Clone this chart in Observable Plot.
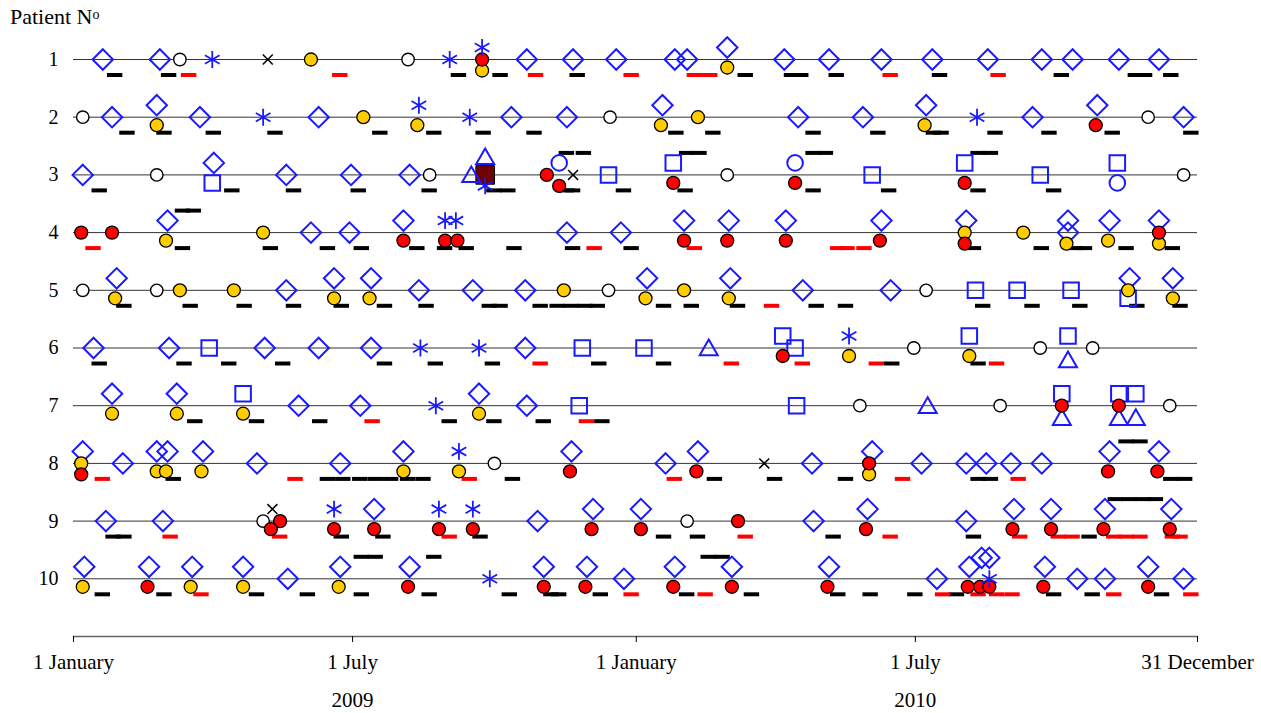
<!DOCTYPE html>
<html>
<head>
<meta charset="utf-8">
<script src="https://cdn.jsdelivr.net/npm/d3@7"></script>
<script src="https://cdn.jsdelivr.net/npm/@observablehq/plot@0.6"></script>
<style>
  body { margin: 0; background: #fff; }
  #wrap { position: relative; width: 1261px; height: 713px; overflow: hidden; background: #fff; }
  #title { position: absolute; left: 10px; top: 6px; font: 22px/1 "Liberation Serif", serif; color: #000; white-space: nowrap; }
  #title span { font-size: 14px; position: relative; top: -5px; }
</style>
</head>
<body>
<div id="wrap">
  <div id="chart"></div>
  <div id="title">Patient N<span>o</span></div>
</div>
<script>
// ---- Data (x = day counted from 1 January 2009; [patient, day, stack level]) ----
const patients = [1, 2, 3, 4, 5, 6, 7, 8, 9, 10];
const tickDays = [0, 181, 365, 546, 729];
const tickLabels = ["1 January", "1 July", "1 January", "1 July", "31 December"];
const yearDays = [181, 546];
const yearLabels = ["2009", "2010"];

const diamonds = [
  [1,19,0],[1,56,0],[1,294,0],[1,324,0],[1,352,0],[1,390,0],[1,398,0],[1,424,-1],[1,461,0],[1,490,0],[1,524,0],[1,557,0],[1,593,0],[1,628,0],[1,648,0],[1,678,0],[1,704,0],
  [2,25,0],[2,54,-1],[2,82,0],[2,159,0],[2,284,0],[2,320,0],[2,382,-1],[2,470,0],[2,512,0],[2,553,-1],[2,622,0],[2,664,-1],[2,720,0],
  [3,6,0],[3,91,-1],[3,138,0],[3,180,0],[3,218,0],
  [4,61,-1],[4,154,0],[4,179,0],[4,214,-1],[4,320,0],[4,355,0],[4,396,-1],[4,425,-1],[4,462,-1],[4,524,-1],[4,579,-1],[4,645,-1],[4,645,0],[4,672,-1],[4,704,-1],
  [5,28,-1],[5,138,0],[5,169,-1],[5,193,-1],[5,224,0],[5,259,0],[5,293,0],[5,372,-1],[5,426,-1],[5,473,0],[5,530,0],[5,685,-1],[5,713,-1],
  [6,13,0],[6,62,0],[6,124,0],[6,159,0],[6,193,0],[6,293,0],
  [7,25,-1],[7,67,-1],[7,146,0],[7,186,0],[7,263,-1],[7,294,0],
  [8,6,-1],[8,32,0],[8,54,-1],[8,61,-1],[8,84,-1],[8,119,0],[8,173,0],[8,214,-1],[8,323,-1],[8,384,0],[8,405,-1],[8,479,0],[8,518,-1],[8,550,0],[8,579,0],[8,592,0],[8,608,0],[8,628,0],[8,672,-1],[8,704,-1],
  [9,21,0],[9,58,0],[9,195,-1],[9,301,0],[9,337,-1],[9,368,-1],[9,480,0],[9,515,-1],[9,579,0],[9,610,-1],[9,634,-1],[9,669,-1],[9,712,-1],
  [10,7,-1],[10,49,-1],[10,77,-1],[10,110,-1],[10,139,0],[10,173,-1],[10,218,-1],[10,305,-1],[10,333,-1],[10,357,0],[10,390,-1],[10,427,-1],[10,490,-1],[10,560,0],[10,581,-1],[10,589,-2],[10,594,-2],[10,630,-1],[10,651,0],[10,669,0],[10,697,-1],[10,720,0]
];

const openCircles = [
  [1,69,0],[1,217,0],
  [2,6,0],[2,348,0],[2,697,0],
  [3,54,0],[3,231,0],[3,424,0],[3,720,0],
  [5,6,0],[5,54,0],[5,347,0],[5,553,0],
  [6,545,0],[6,627,0],[6,661,0],
  [7,510,0],[7,601,0],[7,711,0],
  [8,273,0],
  [9,123,0],[9,398,0]
];

const yellowCircles = [
  [1,154,0],[1,265,2],[1,424,1],
  [2,54,1],[2,188,0],[2,223,1],[2,381,1],[2,405,0],[2,552,1],
  [4,60,1],[4,123,0],[4,578,0],[4,616,0],[4,644,2],[4,671,1],[4,704,2],
  [5,27,1],[5,69,0],[5,104,0],[5,169,1],[5,192,1],[5,318,0],[5,371,1],[5,396,0],[5,425,1],[5,684,0],[5,713,1],
  [6,503,1],[6,581,1],
  [7,25,1],[7,67,1],[7,110,1],[7,263,1],
  [8,5,0],[8,54,1],[8,60,1],[8,83,1],[8,214,1],[8,250,1],[8,516,2],
  [10,6,1],[10,76,1],[10,110,1],[10,172,1]
];

const redCircles = [
  [1,265,0],
  [2,663,1],
  [3,307,0],[3,315,2],[3,389,1],[3,468,1],[3,578,1],
  [4,5,0],[4,25,0],[4,214,1],[4,241,1],[4,249,1],[4,396,1],[4,424,1],[4,462,1],[4,523,1],[4,578,2],[4,704,0],
  [6,460,1],
  [7,641,0],[7,678,0],
  [8,5,2],[8,322,1],[8,404,1],[8,516,0],[8,671,1],[8,703,1],
  [9,128,1],[9,134,0],[9,169,1],[9,195,1],[9,237,1],[9,259,1],[9,336,1],[9,368,1],[9,431,0],[9,514,1],[9,609,1],[9,634,1],[9,668,1],[9,711,1],
  [10,48,1],[10,217,1],[10,305,1],[10,332,1],[10,389,1],[10,427,1],[10,489,1],[10,580,1],[10,588,1],[10,594,1],[10,629,1],[10,697,1]
];

const asterisks = [
  [1,90,0],[1,244,0],[1,265,-1],
  [2,123,0],[2,224,-1],[2,257,0],[2,586,0],
  [3,267,2],
  [4,241,-1],[4,248,-1],
  [6,225,0],[6,263,0],[6,503,-1],
  [7,235,0],
  [8,250,-1],
  [9,169,-1],[9,237,-1],[9,259,-1],
  [10,270,0],[10,594,0]
];

const crosses = [[1,126,0],[3,324,0],[8,448,0],[9,129,-1]];

const squares = [
  [3,90,1],[3,347,0],[3,389,-1],[3,518,0],[3,578,-1],[3,627,0],[3,677,-1],
  [5,585,0],[5,612,0],[5,647,0],[5,684,1],
  [6,88,0],[6,330,0],[6,370,0],[6,460,-1],[6,468,0],[6,581,-1],[6,645,-1],
  [7,110,-1],[7,328,0],[7,469,0],[7,641,-1],[7,678,-1],[7,689,-1]
];

const triangles = [[3,258,0],[3,267,-1],[6,412,0],[6,645,2],[7,554,0],[7,641,2],[7,678,2],[7,689,2]];
const blueCircles = [[3,315,-1],[3,468,-1],[3,677,1]];
const darkSquares = [[3,267,0]];

// dashes: [patient, start day]
const blackDashes = [
  [1,22],[1,57],[1,245],[1,272],[1,322],[1,431],[1,461],[1,467],[1,490],[1,557],[1,636],[1,684],[1,690],[1,707],
  [2,30],[2,54],[2,86],[2,126],[2,194],[2,229],[2,261],[2,294],[2,386],[2,410],[2,475],[2,517],[2,553],[2,558],[2,593],[2,628],[2,669],[2,720],
  [3,12],[3,98],[3,138],[3,180],[3,226],[3,268],[3,277],[3,315],[3,319],[3,352],[3,392],[3,475],[3,524],[3,582],[3,631],
  [4,66],[4,123],[4,160],[4,182],[4,218],[4,236],[4,250],[4,281],[4,319],[4,357],[4,579],[4,623],[4,645],[4,651],[4,678],[4,708],
  [5,28],[5,71],[5,106],[5,138],[5,169],[5,197],[5,224],[5,265],[5,272],[5,298],[5,309],[5,318],[5,327],[5,335],[5,378],[5,396],[5,426],[5,477],[5,496],[5,585],[5,617],[5,648],[5,685],[5,713],
  [6,12],[6,67],[6,96],[6,131],[6,197],[6,230],[6,267],[6,336],[6,378],[6,526],[6,582],
  [7,74],[7,114],[7,155],[7,239],[7,268],[7,300],[7,338],
  [8,60],[8,160],[8,170],[8,181],[8,191],[8,201],[8,212],[8,222],[8,280],[8,411],[8,450],[8,496],[8,582],[8,590],[8,707],[8,716],
  [9,21],[9,28],[9,169],[9,196],[9,259],[9,378],[9,400],[9,488],[9,579],[9,654],
  [10,14],[10,54],[10,114],[10,147],[10,182],[10,226],[10,278],[10,305],[10,310],[10,337],[10,393],[10,435],[10,491],[10,512],[10,541],[10,568],[10,631],[10,656],[10,701]
];

const redDashes = [
  [1,70],[1,168],[1,295],[1,357],[1,398],[1,408],[1,525],[1,595],
  [4,8],[4,333],[4,398],[4,491],[4,497],[4,508],
  [5,448],
  [6,298],[6,422],[6,468],[6,516],[6,594],
  [7,189],[7,328],
  [8,14],[8,139],[8,252],[8,385],[8,533],[8,608],
  [9,58],[9,129],[9,239],[9,431],[9,525],[9,609],[9,634],[9,643],[9,670],[9,678],[9,687],[9,708],[9,713],
  [10,78],[10,357],[10,405],[10,559],[10,582],[10,594],[10,604],[10,670],[10,720]
];

const upperDashes = [
  [3,315],[3,326],[3,393],[3,401],[3,475],[3,483],[3,582],[3,590],
  [4,66],[4,73],
  [8,678],[8,687],
  [9,671],[9,680],[9,689],[9,697],
  [10,182],[10,191],[10,229],[10,407],[10,416]
];

// ---- Presentation ----
const DASH_DAYS = 10;
const LEVEL = {"-2": -21, "-1": -12, "0": 0, "1": 8, "2": 11};
const TRI_LEVEL = {"-1": -16, "0": 2, "1": 14, "2": 14};
const BLUE = "#1a1aff";

function layered(rows, options, offsets = LEVEL) {
  const levels = [...new Set(rows.map(d => d[2]))];
  return levels.map(l => Plot.dot(rows.filter(d => d[2] === l), {
    x: d => d[1], y: d => d[0], dy: offsets[l], ...options
  }));
}
function dashes(rows, stroke, dy) {
  return Plot.ruleY(rows, {y: d => d[0], x1: d => d[1], x2: d => d[1] + DASH_DAYS, dy, stroke, strokeWidth: 4});
}
const tickText = new Map(tickDays.map((d, i) => [d, tickLabels[i]]));

const chart = Plot.plot({
  width: 1261,
  height: 713,
  marginLeft: 73,
  marginRight: 64,
  marginTop: 59,
  marginBottom: 77,
  style: {fontFamily: '"Liberation Serif", serif', background: "white", color: "black"},
  x: {domain: [0, 729]},
  y: {domain: [1, 11], reverse: true},
  marks: [
    Plot.ruleY(patients, {stroke: "#333", strokeWidth: 1}),
    Plot.ruleY([11], {stroke: "#666", strokeWidth: 1.6}),
    dashes(blackDashes, "#000", 15.5),
    dashes(redDashes, "#ff0000", 15.5),
    dashes(upperDashes, "#000", -22),
    ...layered(diamonds, {symbol: "diamond2", r: 9.2, stroke: BLUE, strokeWidth: 2, fill: "none"}),
    ...layered(darkSquares, {symbol: "square", r: 10.5, fill: "#6e0000", stroke: "#000", strokeWidth: 1}),
    ...layered(triangles, {symbol: "triangle2", r: 8.6, stroke: BLUE, strokeWidth: 2, fill: "none"}, TRI_LEVEL),
    ...layered(squares, {symbol: "square2", r: 9.9, stroke: BLUE, strokeWidth: 2, fill: "none"}),
    ...layered(blueCircles, {symbol: "circle", r: 7.8, stroke: BLUE, strokeWidth: 2, fill: "white"}),
    ...layered(openCircles, {symbol: "circle", r: 6.2, stroke: "#000", strokeWidth: 1.4, fill: "white"}),
    ...layered(yellowCircles, {symbol: "circle", r: 6.5, stroke: "#000", strokeWidth: 1.3, fill: "#ffcc00"}),
    ...layered(redCircles, {symbol: "circle", r: 6.5, stroke: "#000", strokeWidth: 1.3, fill: "#ff0000"}),
    ...layered(asterisks, {symbol: "asterisk", r: 8, stroke: BLUE, strokeWidth: 1.8}),
    ...layered(crosses, {symbol: "times", r: 4.6, stroke: "#000", strokeWidth: 1.5}),
    Plot.axisY({ticks: patients, tickSize: 0, tickPadding: 15, fontSize: 20, label: null, tickFormat: d => String(d)}),
    Plot.axisX({ticks: tickDays, tickSize: 6, tickPadding: 12, fontSize: 21, label: null, tickFormat: d => tickText.get(d)}),
    Plot.text(yearLabels, {x: (d, i) => yearDays[i], text: d => d, frameAnchor: "bottom", lineAnchor: "top", dy: 56, fontSize: 21})
  ]
});
document.getElementById("chart").appendChild(chart);
</script>
</body>
</html>
